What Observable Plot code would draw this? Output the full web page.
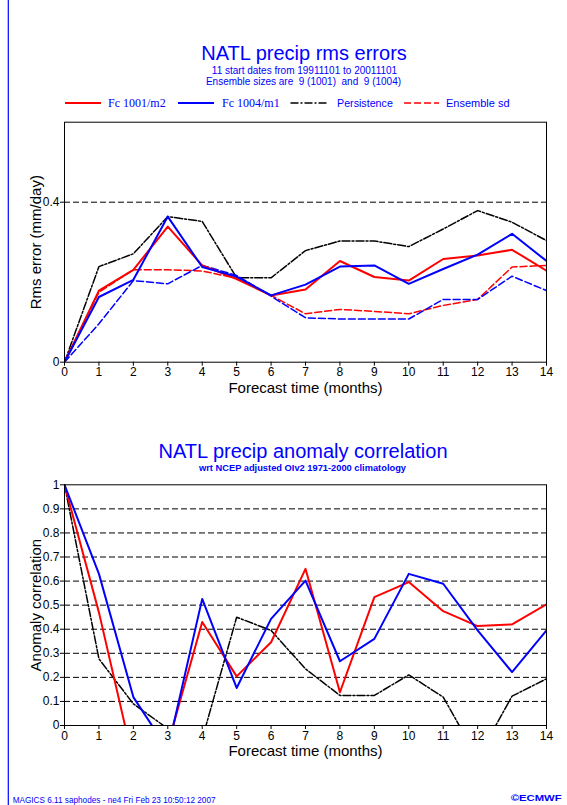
<!DOCTYPE html>
<html><head><meta charset="utf-8">
<script src="https://cdn.jsdelivr.net/npm/d3@7"></script>
<script src="https://cdn.jsdelivr.net/npm/@observablehq/plot@0.6"></script>
<style>
html,body{margin:0;padding:0;background:#fff;}
#wrap{position:relative;width:567px;height:805px;overflow:hidden;background:#fff;}
#wrap > svg{position:absolute;left:0;}
</style></head><body><div id="wrap"></div>
<script>
// ---- data ----
const months = [0,1,2,3,4,5,6,7,8,9,10,11,12,13,14];
// RMS errors (mm/day)
const rmsFc1001 = [0, 0.179, 0.231, 0.339, 0.242, 0.208, 0.167, 0.182, 0.253, 0.213, 0.204, 0.258, 0.267, 0.281, 0.229];
const rmsFc1004 = [0, 0.163, 0.206, 0.364, 0.238, 0.214, 0.167, 0.194, 0.239, 0.242, 0.196, 0.233, 0.269, 0.321, 0.253];
const rmsPersist = [0, 0.239, 0.271, 0.364, 0.352, 0.211, 0.211, 0.279, 0.303, 0.303, 0.289, 0.333, 0.379, 0.350, 0.304];
const sdFc1001 = [0, 0.175, 0.231, 0.231, 0.228, 0.210, 0.167, 0.121, 0.132, 0.127, 0.121, 0.142, 0.157, 0.238, 0.242];
const sdFc1004 = [0, 0.096, 0.204, 0.196, 0.242, 0.217, 0.165, 0.111, 0.108, 0.108, 0.108, 0.157, 0.157, 0.215, 0.179];
// Anomaly correlation
const accFc1001 = [1, 0.47, -0.15, -0.08, 0.43, 0.204, 0.346, 0.651, 0.138, 0.533, 0.596, 0.475, 0.413, 0.42, 0.503];
const accFc1004 = [1, 0.63, 0.118, -0.10, 0.526, 0.156, 0.443, 0.602, 0.267, 0.36, 0.63, 0.589, 0.395, 0.222, 0.395];
const accPersist = [1, 0.277, 0.09, -0.013, -0.056, 0.45, 0.395, 0.235, 0.125, 0.125, 0.21, 0.118, -0.135, 0.122, 0.194];
// ticks
const xTicks = [0,1,2,3,4,5,6,7,8,9,10,11,12,13,14];
const rmsTicks = [0, 0.4];
const rmsGrid = [0.4];
const accTicks = [0, 0.1, 0.2, 0.3, 0.4, 0.5, 0.6, 0.7, 0.8, 0.9, 1];
const accGrid = [0.1, 0.2, 0.3, 0.4, 0.5, 0.6, 0.7, 0.8, 0.9];
// texts
const legendLabels = ["Fc 1001/m2", "Fc 1004/m1", "Persistence", "Ensemble sd"];
const xLabel = "Forecast time (months)";
const rmsLabel = "Rms error (mm/day)";
const accLabel = "Anomaly correlation";

const RED = "#ff0000", BLUE = "#0000ff";
const FONT = "'Liberation Sans', Arial, Helvetica, sans-serif";
const DASHDOT = "8,2,2,2";
const DASH = "7,3";

function table(vals){ return months.map((m,i)=>({month:m, value:vals[i]})); }
function lineMark(vals, stroke, width, dash){
  return Plot.line(table(vals), {x:"month", y:"value", stroke, strokeWidth:width, strokeDasharray:dash, clip:true});
}
const fmt = d => String(d);

function xTitle(){
  return Plot.text([xLabel], {text:d=>d, frameAnchor:"bottom", textAnchor:"middle", lineAnchor:"middle", dy:25.5, fontSize:15, fill:"#000"});
}
function yTitle(label){
  return Plot.text([label], {text:d=>d, frameAnchor:"left", textAnchor:"middle", lineAnchor:"middle", dx:-28.2, rotate:-90, fontSize:15, fill:"#000"});
}

const wrap = document.getElementById("wrap");

const topChart = Plot.plot({
  width: 567, height: 420,
  marginTop: 121.7, marginBottom: 58.3, marginLeft: 64, marginRight: 21,
  style: {fontFamily: FONT, background: "transparent", color: "#000"},
  x: {domain: [0, 14]},
  y: {domain: [0, 0.6]},
  marks: [
    Plot.ruleY(rmsGrid, {stroke:"#000", strokeWidth:1, strokeDasharray:"6,3"}),
    lineMark(rmsPersist, "#000", 1.5, DASHDOT),
    lineMark(sdFc1001, RED, 1.5, DASH),
    lineMark(sdFc1004, BLUE, 1.5, DASH),
    lineMark(rmsFc1001, RED, 2, null),
    lineMark(rmsFc1004, BLUE, 2, null),
    Plot.frame({stroke:"#000", strokeWidth:1}),
    Plot.axisX({ticks:xTicks, tickSize:4, tickPadding:1.5, fontSize:12, label:null, tickFormat:fmt}),
    Plot.axisY({ticks:rmsTicks, tickSize:4, tickPadding:1, fontSize:12, label:null, tickFormat:fmt}),
    xTitle(),
    yTitle(rmsLabel)
  ]
});
topChart.style.top = "0px";
wrap.appendChild(topChart);

const bottomChart = Plot.plot({
  width: 567, height: 385,
  marginTop: 64.3, marginBottom: 80, marginLeft: 64, marginRight: 21,
  style: {fontFamily: FONT, background: "transparent", color: "#000"},
  x: {domain: [0, 14]},
  y: {domain: [0, 1]},
  marks: [
    Plot.ruleY(accGrid, {stroke:"#000", strokeWidth:1, strokeDasharray:"6,3"}),
    lineMark(accPersist, "#000", 1.5, DASHDOT),
    lineMark(accFc1001, RED, 2, null),
    lineMark(accFc1004, BLUE, 2, null),
    Plot.frame({stroke:"#000", strokeWidth:1}),
    Plot.axisX({ticks:xTicks, tickSize:4, tickPadding:1.5, fontSize:12, label:null, tickFormat:fmt}),
    Plot.axisY({ticks:accTicks, tickSize:4, tickPadding:1, fontSize:12, label:null, tickFormat:fmt}),
    xTitle(),
    yTitle(accLabel)
  ]
});
bottomChart.style.top = "420px";
wrap.appendChild(bottomChart);

// overlay: titles, legend, footer
const ns = "http://www.w3.org/2000/svg";
const ov = document.createElementNS(ns, "svg");
ov.setAttribute("width", 567); ov.setAttribute("height", 805);
ov.style.top = "0px"; ov.style.pointerEvents = "none";
ov.setAttribute("font-family", FONT);
ov.innerHTML = `
  <line x1="8.3" y1="0" x2="8.3" y2="805" stroke="${BLUE}" stroke-width="1.2"/>
  <text x="304" y="60" font-size="20" fill="${BLUE}" text-anchor="middle">NATL precip rms errors</text>
  <text x="304.5" y="74" font-size="10" fill="${BLUE}" text-anchor="middle">11 start dates from 19911101 to 20011101</text>
  <text x="303.5" y="84.5" font-size="10" fill="${BLUE}" text-anchor="middle" style="white-space:pre">Ensemble sizes are  9 (1001)  and  9 (1004)</text>
  <line x1="65" y1="103" x2="101" y2="103" stroke="${RED}" stroke-width="2"/>
  <text x="108" y="107" font-size="12" font-family="'Liberation Serif', 'Times New Roman', serif" fill="${BLUE}">${legendLabels[0]}</text>
  <line x1="178" y1="103" x2="214" y2="103" stroke="${BLUE}" stroke-width="2"/>
  <text x="222" y="107" font-size="12" font-family="'Liberation Serif', 'Times New Roman', serif" fill="${BLUE}">${legendLabels[1]}</text>
  <line x1="290.5" y1="103" x2="327" y2="103" stroke="#000" stroke-width="1.5" stroke-dasharray="${DASHDOT}"/>
  <text x="337" y="107" font-size="10.7" fill="${BLUE}">${legendLabels[2]}</text>
  <line x1="404" y1="103" x2="439" y2="103" stroke="${RED}" stroke-width="1.5" stroke-dasharray="${DASH}"/>
  <text x="446" y="107" font-size="11" fill="${BLUE}">${legendLabels[3]}</text>
  <text x="303" y="457.7" font-size="20" fill="${BLUE}" text-anchor="middle">NATL precip anomaly correlation</text>
  <text x="302.5" y="471" font-size="9.3" font-weight="bold" fill="${BLUE}" text-anchor="middle">wrt NCEP adjusted OIv2 1971-2000 climatology</text>
  <text x="12.7" y="803" font-size="8.2" fill="${BLUE}">MAGICS 6.11 saphodes - ne4 Fri Feb 23 10:50:12 2007</text>
  <text x="510.7" y="800.5" font-size="9.5" font-weight="bold" fill="${BLUE}" textLength="51" lengthAdjust="spacingAndGlyphs">©ECMWF</text>
`;
wrap.appendChild(ov);
</script>
</body></html>
